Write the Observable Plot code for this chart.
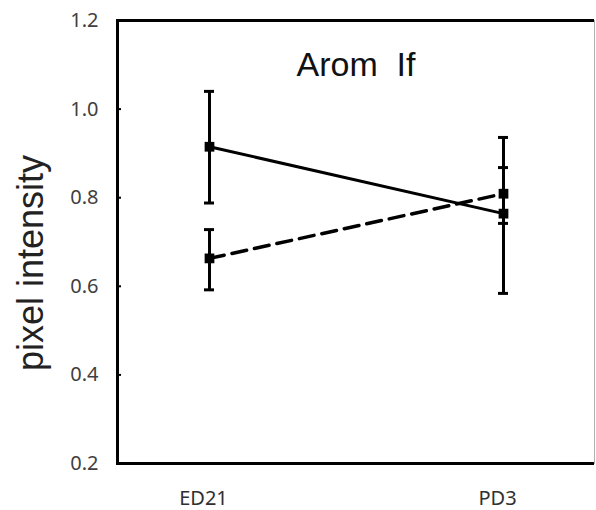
<!DOCTYPE html>
<html>
<head>
<meta charset="utf-8">
<script src="https://cdn.jsdelivr.net/npm/d3@7"></script>
<script src="https://cdn.jsdelivr.net/npm/@observablehq/plot@0.6"></script>
<style>
  html, body { margin: 0; padding: 0; background: #fff; }
  #chart svg { display: block; }
</style>
</head>
<body>
<div id="chart"></div>
<script>
// ---- data ----
const times = ["ED21", "PD3"];
const solidMean = [0.915, 0.764];
const solidLow  = [0.788, 0.584];
const solidHigh = [1.040, 0.936];
const dashedMean = [0.663, 0.809];
const dashedLow  = [0.592, 0.742];
const dashedHigh = [0.728, 0.868];
const yTicks = [0.2, 0.4, 0.6, 0.8, 1.0, 1.2];
const title = "Arom\u00a0 If";
const yLabel = "pixel intensity";

const solid = times.map((t, i) => ({time: t, mean: solidMean[i], lo: solidLow[i], hi: solidHigh[i]}));
const dashed = times.map((t, i) => ({time: t, mean: dashedMean[i], lo: dashedLow[i], hi: dashedHigh[i]}));
const all = solid.concat(dashed);

const chart = Plot.plot({
  width: 596,
  height: 510,
  marginLeft: 117,
  marginRight: 2,
  marginTop: 20,
  marginBottom: 47,
  style: {background: "#fff"},
  x: {type: "band", domain: times, paddingInner: 0.966, paddingOuter: 0.2915},
  y: {domain: [0.2, 1.2]},
  marks: [
    Plot.frame({stroke: "#b0b0b0", strokeWidth: 1}),
    Plot.ruleY([0.2, 1.2], {stroke: "#000", strokeWidth: 3}),
    Plot.frame({anchor: "left", stroke: "#000", strokeWidth: 3}),
    Plot.axisY({ticks: yTicks, tickSize: -4, strokeWidth: 2, text: null, label: null}),
    Plot.axisY({ticks: yTicks, tickSize: 0, tickPadding: 19, tickFormat: d3.format(".1f"),
      fontSize: 20, fontFamily: "Noto Sans", fill: "#404040", label: null}),
    Plot.axisX({tickSize: 0, tickPadding: 27, dx: -6, fontSize: 20, fontFamily: "Noto Sans", fill: "#303030", label: null}),
    // error bars
    Plot.ruleX(all, {x: "time", y1: "lo", y2: "hi", stroke: "#000", strokeWidth: 3}),
    Plot.tickY(all, {x: "time", y: "hi", stroke: "#000", strokeWidth: 3}),
    Plot.tickY(all, {x: "time", y: "lo", stroke: "#000", strokeWidth: 3}),
    // series lines
    Plot.lineY(solid, {x: "time", y: "mean", stroke: "#000", strokeWidth: 3}),
    Plot.lineY(dashed, {x: "time", y: "mean", stroke: "#000", strokeWidth: 3.5, strokeDasharray: "15,8"}),
    Plot.dot(all, {x: "time", y: "mean", symbol: "square", r: 5.5, fill: "#000", stroke: null}),
    // title and y label
    Plot.text([title], {frameAnchor: "top", dy: 45, text: d => d, fontSize: 34,
      fontFamily: "Liberation Sans", fill: "#111", lineAnchor: "middle"}),
    Plot.text([yLabel], {frameAnchor: "left", textAnchor: "middle", rotate: -90, dx: -86, dy: 21, text: d => d, fontSize: 36,
      fontFamily: "Liberation Sans", fill: "#222", lineAnchor: "middle"})
  ]
});
document.getElementById("chart").appendChild(chart);
</script>
</body>
</html>
